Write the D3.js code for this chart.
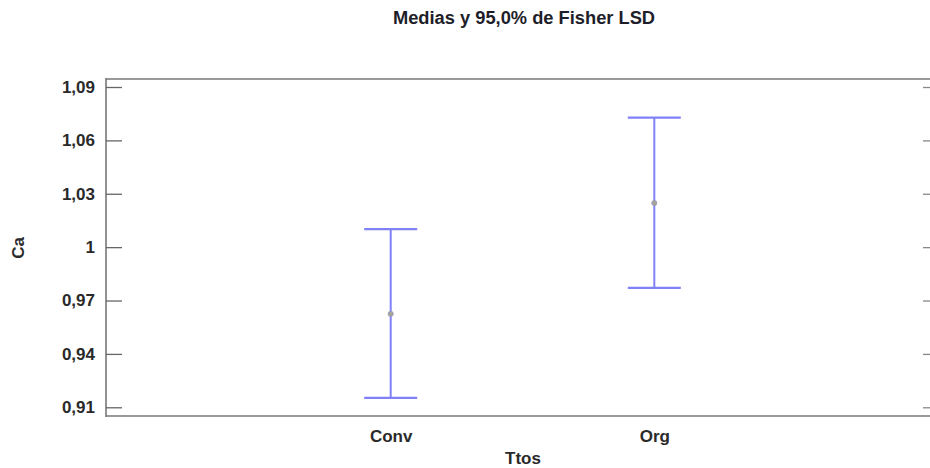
<!DOCTYPE html>
<html>
<head>
<meta charset="utf-8">
<script src="https://cdn.jsdelivr.net/npm/d3@7"></script>
<style>
  html, body { margin: 0; padding: 0; background: #fff; overflow: hidden; }
  svg { display: block; font-family: "Liberation Sans", Arial, sans-serif; }
</style>
</head>
<body>
<svg id="chart" width="930" height="468"></svg>
<script>
// Data
const categories = ["Conv", "Org"];
const means = [0.9625, 1.0248];
const lower = [0.9153, 0.9771];
const upper = [1.0101, 1.0728];
const yTicks = [0.91, 0.94, 0.97, 1.0, 1.03, 1.06, 1.09];
const titleText = "Medias y 95,0% de Fisher LSD";
const xTitle = "Ttos";
const yTitle = "Ca";

const svg = d3.select("#chart");
const frame = { left: 106, right: 939, top: 79, bottom: 416 };

const x = d3.scalePoint().domain(categories).range([frame.left, frame.right]).padding(1.08);
const y = d3.scaleLinear().domain([0.9051, 1.0945]).range([frame.bottom, frame.top]);

const fmt = v => {
  let s = d3.format(".2f")(v);
  s = s.replace(/\.?0+$/, "");
  return s.replace(".", ",");
};

// Frame (left, top, bottom; right edge lies beyond the visible area)
const fr = svg.append("g").attr("fill", "none");
fr.append("line").attr("x1", frame.left).attr("x2", 930).attr("y1", frame.top).attr("y2", frame.top)
  .attr("stroke", "#999").attr("stroke-width", 2);
fr.append("line").attr("x1", frame.left).attr("x2", 930).attr("y1", frame.bottom).attr("y2", frame.bottom)
  .attr("stroke", "#999").attr("stroke-width", 2);
fr.append("line").attr("x1", frame.left).attr("x2", frame.left).attr("y1", frame.top - 1).attr("y2", frame.bottom + 1)
  .attr("stroke", "#777").attr("stroke-width", 1.6);

// Left axis
const yAxisL = d3.axisLeft(y).tickValues(yTicks).tickSize(-16).tickPadding(11).tickFormat(fmt);
const gL = svg.append("g").attr("transform", `translate(${frame.left},0)`).call(yAxisL);
gL.select(".domain").remove();
gL.selectAll(".tick line").attr("stroke", "#666").attr("stroke-width", 1.3);
gL.selectAll(".tick text")
  .attr("font-size", 17).attr("font-weight", "bold").attr("fill", "#2a2a2a")
  .attr("font-family", "'Liberation Sans', Arial, sans-serif");

// Right axis ticks
const yAxisR = d3.axisRight(y).tickValues(yTicks).tickSize(-16).tickFormat("");
const gR = svg.append("g").attr("transform", `translate(${frame.right},0)`).call(yAxisR);
gR.select(".domain").remove();
gR.selectAll(".tick line").attr("stroke", "#888").attr("stroke-width", 1.3);

// X axis labels
const xAxis = d3.axisBottom(x).tickSize(0).tickPadding(14);
const gX = svg.append("g").attr("transform", `translate(0,${frame.bottom})`).call(xAxis);
gX.select(".domain").remove();
gX.selectAll(".tick text")
  .attr("font-size", 17).attr("font-weight", "bold").attr("fill", "#2a2a2a")
  .attr("font-family", "'Liberation Sans', Arial, sans-serif");

// Error bars
const capHalf = 26.5;
const barColor = "#8080f8";
const bars = svg.append("g").selectAll("g").data(categories).join("g");
bars.append("line")
  .attr("x1", d => x(d)).attr("x2", d => x(d))
  .attr("y1", (d, i) => y(upper[i])).attr("y2", (d, i) => y(lower[i]))
  .attr("stroke", barColor).attr("stroke-width", 2);
bars.append("line")
  .attr("x1", d => x(d) - capHalf).attr("x2", d => x(d) + capHalf)
  .attr("y1", (d, i) => y(upper[i])).attr("y2", (d, i) => y(upper[i]))
  .attr("stroke", barColor).attr("stroke-width", 2.2);
bars.append("line")
  .attr("x1", d => x(d) - capHalf).attr("x2", d => x(d) + capHalf)
  .attr("y1", (d, i) => y(lower[i])).attr("y2", (d, i) => y(lower[i]))
  .attr("stroke", barColor).attr("stroke-width", 2.2);
bars.append("circle")
  .attr("cx", d => x(d)).attr("cy", (d, i) => y(means[i]))
  .attr("r", 2.6).attr("fill", "#a4a49a").attr("stroke", "#9a9ab8").attr("stroke-width", 0.8);

// Titles
svg.append("text").attr("x", 524).attr("y", 24).attr("text-anchor", "middle")
  .attr("font-size", 18.3).attr("font-weight", "bold").attr("fill", "#1e1e2a")
  .text(titleText);
svg.append("text").attr("x", 523).attr("y", 464).attr("text-anchor", "middle")
  .attr("font-size", 17).attr("font-weight", "bold").attr("fill", "#2a2a2a")
  .text(xTitle);
svg.append("text").attr("transform", "translate(24,248) rotate(-90)").attr("text-anchor", "middle")
  .attr("font-size", 17).attr("font-weight", "bold").attr("fill", "#2a2a2a")
  .text(yTitle);
</script>
</body>
</html>
